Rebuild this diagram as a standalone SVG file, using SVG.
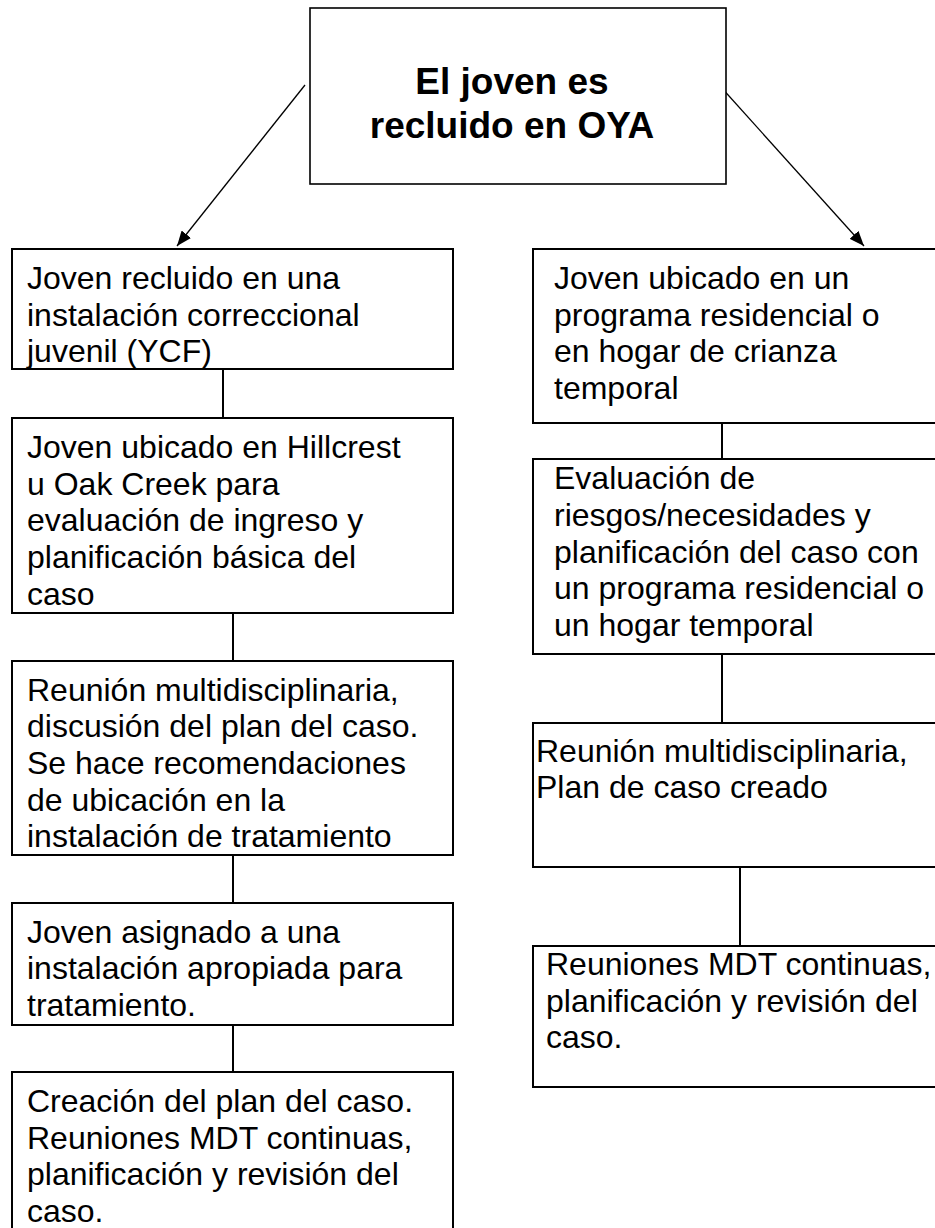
<svg xmlns="http://www.w3.org/2000/svg" width="935" height="1228" viewBox="0 0 935 1228">
<style>
.box{fill:#fff;stroke:#000;stroke-width:2}
.tbox{fill:#fff;stroke:#000;stroke-width:1.6}
.t{font-family:"Liberation Sans",Arial,sans-serif;font-size:32px;fill:#000}
.title{font-family:"Liberation Sans",Arial,sans-serif;font-size:37px;font-weight:bold;fill:#000;text-anchor:middle}
.c{stroke:#000;stroke-width:2;fill:none}
.a{stroke:#000;stroke-width:1.3;fill:none}
</style>
<defs>
<marker id="ah" markerUnits="userSpaceOnUse" markerWidth="16" markerHeight="12" refX="15" refY="6" orient="auto">
<path d="M0,0 L15,6 L0,12 z" fill="#000"/>
</marker>
</defs>
<rect width="935" height="1228" fill="#fff"/>
<g id="connectors">
<line class="a" x1="305" y1="85" x2="177" y2="246" marker-end="url(#ah)"/>
<line class="a" x1="720" y1="86" x2="864" y2="246" marker-end="url(#ah)"/>
<line class="c" x1="223" y1="369" x2="223" y2="418"/>
<line class="c" x1="233" y1="613" x2="233" y2="661"/>
<line class="c" x1="233" y1="855" x2="233" y2="903"/>
<line class="c" x1="233" y1="1025" x2="233" y2="1072"/>
<line class="c" x1="722" y1="423" x2="722" y2="459"/>
<line class="c" x1="722" y1="654" x2="722" y2="723"/>
<line class="c" x1="740" y1="867" x2="740" y2="946"/>
</g>
<g id="n0">
<rect class="tbox" x="310" y="8" width="416" height="176"/>
<text class="title" x="512" y="94">El joven es</text>
<text class="title" x="512" y="138">recluido en OYA</text>
</g>
<g id="L1">
<rect class="box" x="12" y="249" width="441" height="120"/>
<text class="t" x="27" y="289">Joven recluido en una</text>
<text class="t" x="27" y="326">instalación correccional</text>
<text class="t" x="27" y="362">juvenil (YCF)</text>
</g>
<g id="L2">
<rect class="box" x="12" y="418" width="441" height="195"/>
<text class="t" x="27" y="458">Joven ubicado en Hillcrest</text>
<text class="t" x="27" y="495">u Oak Creek para</text>
<text class="t" x="27" y="531">evaluación de ingreso y</text>
<text class="t" x="27" y="568">planificación básica del</text>
<text class="t" x="27" y="605">caso</text>
</g>
<g id="L3">
<rect class="box" x="12" y="661" width="441" height="194"/>
<text class="t" x="27" y="701">Reunión multidisciplinaria,</text>
<text class="t" x="27" y="737">discusión del plan del caso.</text>
<text class="t" x="27" y="774">Se hace recomendaciones</text>
<text class="t" x="27" y="811">de ubicación en la</text>
<text class="t" x="27" y="847">instalación de tratamiento</text>
</g>
<g id="L4">
<rect class="box" x="12" y="903" width="441" height="122"/>
<text class="t" x="27" y="943">Joven asignado a una</text>
<text class="t" x="27" y="979">instalación apropiada para</text>
<text class="t" x="27" y="1016">tratamiento.</text>
</g>
<g id="L5">
<rect class="box" x="12" y="1072" width="441" height="170"/>
<text class="t" x="27" y="1112">Creación del plan del caso.</text>
<text class="t" x="27" y="1149">Reuniones MDT continuas,</text>
<text class="t" x="27" y="1185">planificación y revisión del</text>
<text class="t" x="27" y="1222">caso.</text>
</g>
<g id="R1">
<rect class="box" x="533" y="249" width="410" height="174"/>
<text class="t" x="554" y="289">Joven ubicado en un</text>
<text class="t" x="554" y="326">programa residencial o</text>
<text class="t" x="554" y="362">en hogar de crianza</text>
<text class="t" x="554" y="399">temporal</text>
</g>
<g id="R2">
<rect class="box" x="533" y="459" width="410" height="195"/>
<text class="t" x="554" y="489">Evaluación de</text>
<text class="t" x="554" y="526">riesgos/necesidades y</text>
<text class="t" x="554" y="563">planificación del caso con</text>
<text class="t" x="554" y="599">un programa residencial o</text>
<text class="t" x="554" y="636">un hogar temporal</text>
</g>
<g id="R3">
<rect class="box" x="533" y="723" width="410" height="144"/>
<text class="t" x="536" y="762">Reunión multidisciplinaria,</text>
<text class="t" x="536" y="798">Plan de caso creado</text>
</g>
<g id="R4">
<rect class="box" x="533" y="946" width="410" height="141"/>
<text class="t" x="546" y="975">Reuniones MDT continuas,</text>
<text class="t" x="546" y="1012">planificación y revisión del</text>
<text class="t" x="546" y="1048">caso.</text>
</g>
</svg>
